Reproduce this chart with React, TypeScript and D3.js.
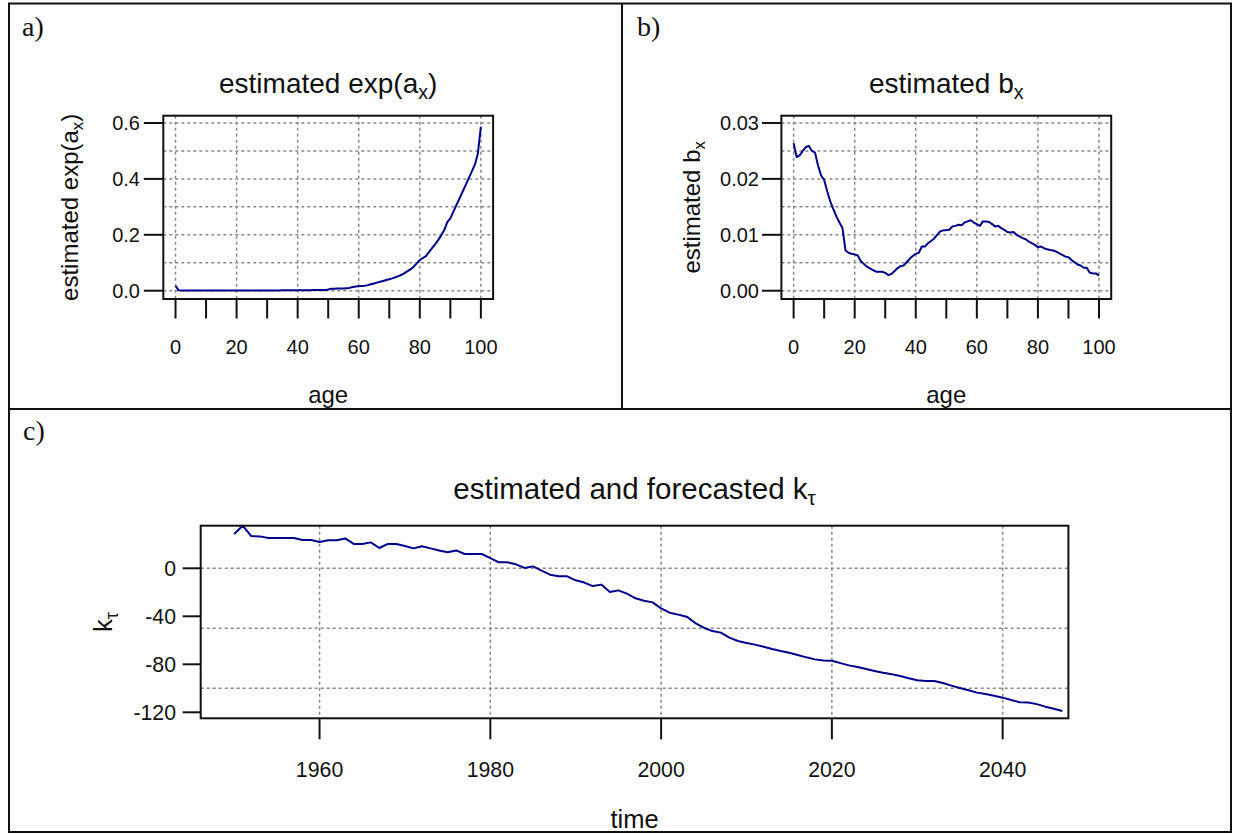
import React from "react";
import * as d3 from "d3";

// ---------- data ----------
const ageStart = 0;
const expAx = [
  0.017, 0.002, 0.001, 0.0007, 0.0005, 0.0004, 0.0004, 0.0004, 0.0004, 0.0004,
  0.0003, 0.0003, 0.0003, 0.0003, 0.0003, 0.0006, 0.0006, 0.0006, 0.0006, 0.0006,
  0.0008, 0.0008, 0.0008, 0.0008, 0.0008, 0.0008, 0.0008, 0.0008, 0.0008, 0.0008,
  0.001, 0.001, 0.001, 0.001, 0.001, 0.0013, 0.0013, 0.0013, 0.0013, 0.0013,
  0.0018, 0.0018, 0.0018, 0.0018, 0.0018, 0.0025, 0.0025, 0.0025, 0.0025, 0.0025,
  0.004, 0.007, 0.007, 0.008, 0.008, 0.008, 0.009, 0.010, 0.013, 0.015,
  0.016, 0.017, 0.018, 0.020, 0.023, 0.026, 0.029, 0.032, 0.035, 0.038,
  0.041, 0.044, 0.048, 0.052, 0.057, 0.063, 0.070, 0.077, 0.086, 0.098,
  0.110, 0.117, 0.124, 0.138, 0.152, 0.166, 0.181, 0.198, 0.217, 0.245,
  0.259, 0.283, 0.307, 0.330, 0.354, 0.378, 0.402, 0.426, 0.450, 0.490,
  0.587,
];
const bx = [
  0.0264, 0.0239, 0.0242, 0.0250, 0.0257, 0.0259, 0.0250, 0.0247, 0.0224, 0.0206,
  0.0198, 0.0178, 0.0160, 0.0146, 0.0133, 0.0122, 0.0112, 0.0072, 0.0068, 0.0066,
  0.0065, 0.0063, 0.0053, 0.0048, 0.0043, 0.0040, 0.0037, 0.0034, 0.0034, 0.0034,
  0.0032, 0.0028, 0.0030, 0.0035, 0.0040, 0.0044, 0.0045, 0.0051, 0.0057, 0.0062,
  0.0066, 0.0068, 0.0079, 0.0079, 0.0085, 0.0089, 0.0093, 0.0100, 0.0106, 0.0108,
  0.0108, 0.0109, 0.0115, 0.0116, 0.0118, 0.0117, 0.0122, 0.0124, 0.0126, 0.0122,
  0.0119, 0.0116, 0.0124, 0.0124, 0.0123, 0.0119, 0.0115, 0.0116, 0.0112, 0.0109,
  0.0105, 0.0104, 0.0105, 0.0100, 0.0097, 0.0094, 0.0092, 0.0088, 0.0085, 0.0082,
  0.0078, 0.0079, 0.0076, 0.0074, 0.0073, 0.0072, 0.0070, 0.0067, 0.0064, 0.0061,
  0.0060, 0.0055, 0.0051, 0.0047, 0.0045, 0.0041, 0.0041, 0.0032, 0.0031, 0.0031,
  0.0027,
];
const yearStart = 1950;
const kt = [
  28.6, 35.5, 26.9, 26.6, 25.3, 25.3, 25.3, 25.3, 23.6, 23.6,
  21.9, 23.3, 23.3, 24.9, 20.3, 20.3, 21.6, 16.9, 20.3, 20.3,
  18.6, 16.6, 18.3, 16.6, 14.9, 13.3, 14.9, 11.9, 11.9, 11.9,
  8.5, 5.0, 5.0, 3.3, 0.3, 1.6, -2.0, -5.3, -6.7, -6.7,
  -10.0, -11.9, -14.8, -13.6, -19.8, -18.4, -21.1, -25.0, -27.0, -28.4,
  -33.4, -37.0, -38.6, -40.3, -45.6, -49.5, -52.3, -53.6, -57.8, -60.6,
  -62.3, -63.6, -65.3, -67.2, -68.9, -70.3, -72.2, -74.2, -75.9, -76.9,
  -77.1, -79.0, -80.9, -82.3, -83.9, -85.5, -87.0, -88.2, -89.7, -91.6,
  -93.3, -93.9, -94.0, -95.6, -97.8, -99.8, -101.7, -103.6, -104.8, -106.2,
  -107.8, -109.8, -111.6, -111.9, -113.2, -115.3, -117.0, -118.9,
];

const ageGrid = [0, 20, 40, 60, 80, 100];
const ageTicks = [0, 10, 20, 30, 40, 50, 60, 70, 80, 90, 100];
const ageTickLabels = [0, 20, 40, 60, 80, 100];
const expAyTicks = [0, 0.2, 0.4, 0.6];
const expAyGrid = [0, 0.1, 0.2, 0.3, 0.4, 0.5, 0.6];
const bxYTicks = [0, 0.01, 0.02, 0.03];
const bxYGrid = [0, 0.005, 0.01, 0.015, 0.02, 0.025, 0.03];
const ktXTicks = [1960, 1980, 2000, 2020, 2040];
const ktYTicks = [0, -40, -80, -120];
const ktYGrid = [0, -50, -100];

// ---------- styling ----------
const SANS = "'Liberation Sans', Arial, Helvetica, sans-serif";
const SERIF = "'Liberation Serif', 'Times New Roman', serif";
const LINE = "#00008B";
const GRID = "#888888";

type Box = { l: number; r: number; t: number; b: number };

interface PanelProps {
  box: Box;
  xDomain: [number, number];
  yDomain: [number, number];
  xs: number[];
  ys: number[];
  xGrid: number[];
  yGrid: number[];
  xTicks: number[];
  xTickLabels: number[];
  yTicks: number[];
  yFmt: (v: number) => string;
  xTickLen: number;
  yTickLen: number;
  xLabelBaseline: number;
  yLabelRight: number;
  title: React.ReactNode;
  titleBaseline: number;
  yLabel: React.ReactNode;
  yLabelX: number;
  xLabel: string;
  xLabelY: number;
  tickFont: number;
  titleFont: number;
  labelFont: number;
}

function Panel(p: PanelProps) {
  const x = d3.scaleLinear().domain(p.xDomain).range([p.box.l, p.box.r]);
  const y = d3.scaleLinear().domain(p.yDomain).range([p.box.b, p.box.t]);
  const line = d3
    .line<number>()
    .x((_, i) => x(p.xs[i]))
    .y((d) => y(d));
  const cx = (p.box.l + p.box.r) / 2;
  const cy = (p.box.t + p.box.b) / 2;
  return (
    <g>
      {p.yGrid.map((v) => (
        <line
          key={"hg" + v}
          x1={p.box.l}
          x2={p.box.r}
          y1={y(v)}
          y2={y(v)}
          stroke={GRID}
          strokeWidth={1.5}
          strokeDasharray="3,3"
        />
      ))}
      {p.xGrid.map((v) => (
        <line
          key={"vg" + v}
          x1={x(v)}
          x2={x(v)}
          y1={p.box.t}
          y2={p.box.b}
          stroke={GRID}
          strokeWidth={1.5}
          strokeDasharray="3,3"
        />
      ))}
      <path
        d={line(p.ys) || ""}
        fill="none"
        stroke={LINE}
        strokeWidth={2}
        strokeLinejoin="round"
      />
      <rect
        x={p.box.l}
        y={p.box.t}
        width={p.box.r - p.box.l}
        height={p.box.b - p.box.t}
        fill="none"
        stroke="#111"
        strokeWidth={2}
      />
      {p.xTicks.map((v) => (
        <line
          key={"xt" + v}
          x1={x(v)}
          x2={x(v)}
          y1={p.box.b}
          y2={p.box.b + p.xTickLen}
          stroke="#111"
          strokeWidth={2}
        />
      ))}
      {p.xTickLabels.map((v) => (
        <text
          key={"xl" + v}
          x={x(v)}
          y={p.xLabelBaseline}
          textAnchor="middle"
          fontFamily={SANS}
          fontSize={p.tickFont}
          fill="#111"
        >
          {String(v)}
        </text>
      ))}
      {p.yTicks.map((v) => (
        <line
          key={"yt" + v}
          x1={p.box.l - p.yTickLen}
          x2={p.box.l}
          y1={y(v)}
          y2={y(v)}
          stroke="#111"
          strokeWidth={2}
        />
      ))}
      {p.yTicks.map((v) => (
        <text
          key={"yl" + v}
          x={p.yLabelRight}
          y={y(v)}
          dy="0.36em"
          textAnchor="end"
          fontFamily={SANS}
          fontSize={p.tickFont}
          fill="#111"
        >
          {p.yFmt(v)}
        </text>
      ))}
      <text
        x={cx}
        y={p.titleBaseline}
        textAnchor="middle"
        fontFamily={SANS}
        fontSize={p.titleFont}
        fill="#111"
      >
        {p.title}
      </text>
      <text
        transform={`translate(${p.yLabelX},${cy}) rotate(-90)`}
        textAnchor="middle"
        fontFamily={SANS}
        fontSize={p.labelFont}
        fill="#111"
      >
        {p.yLabel}
      </text>
      <text
        x={cx}
        y={p.xLabelY}
        textAnchor="middle"
        fontFamily={SANS}
        fontSize={p.labelFont}
        fill="#111"
      >
        {p.xLabel}
      </text>
    </g>
  );
}

function Sub({ main, sub, size }: { main: string; sub: string; size: number }) {
  return (
    <>
      {main}
      <tspan fontSize={size * 0.7} dy={size * 0.22}>
        {sub}
      </tspan>
    </>
  );
}

export default function App() {
  const ages = expAx.map((_, i) => ageStart + i);
  const years = kt.map((_, i) => yearStart + i);
  const boxA: Box = { l: 163.3, r: 493.1, t: 115.7, b: 299 };
  const boxB: Box = { l: 781.4, r: 1111.2, t: 115.7, b: 299 };
  const boxC: Box = { l: 200.7, r: 1068.4, t: 525.7, b: 718.3 };

  return (
    <svg
      width={1233}
      height={834}
      style={{ position: "absolute", left: 0, top: 0, display: "block", background: "#fff" }}
    >
      <rect x={0} y={0} width={1233} height={834} fill="#fff" />
      <rect x={9} y={3.5} width={1222} height={828.5} fill="none" stroke="#111" strokeWidth={2} />
      <line x1={9} x2={1231} y1={409} y2={409} stroke="#111" strokeWidth={2} />
      <line x1={622} x2={622} y1={3.5} y2={409} stroke="#111" strokeWidth={2} />
      <text x={22} y={36} fontFamily={SERIF} fontSize={28} fill="#111">a)</text>
      <text x={637} y={36} fontFamily={SERIF} fontSize={28} fill="#111">b)</text>
      <text x={23} y={440} fontFamily={SERIF} fontSize={28} fill="#111">c)</text>

      <Panel
        box={boxA}
        xDomain={[-4, 104]}
        yDomain={[-0.0297, 0.6261]}
        xs={ages}
        ys={expAx}
        xGrid={ageGrid}
        yGrid={expAyGrid}
        xTicks={ageTicks}
        xTickLabels={ageTickLabels}
        yTicks={expAyTicks}
        yFmt={d3.format(".1f")}
        xTickLen={19.5}
        yTickLen={19.5}
        xLabelBaseline={354}
        yLabelRight={140}
        title={<>estimated exp(<Sub main="a" sub="x" size={28} /><tspan dy={-28 * 0.22}>)</tspan></>}
        titleBaseline={92.5}
        yLabel={<>estimated exp(<Sub main="a" sub="x" size={24} /><tspan dy={-24 * 0.22}>)</tspan></>}
        yLabelX={78}
        xLabel="age"
        xLabelY={402.5}
        tickFont={20}
        titleFont={28}
        labelFont={24}
      />
      <Panel
        box={boxB}
        xDomain={[-4, 104]}
        yDomain={[-0.00148, 0.0313]}
        xs={ages}
        ys={bx}
        xGrid={ageGrid}
        yGrid={bxYGrid}
        xTicks={ageTicks}
        xTickLabels={ageTickLabels}
        yTicks={bxYTicks}
        yFmt={d3.format(".2f")}
        xTickLen={19.5}
        yTickLen={19.5}
        xLabelBaseline={354}
        yLabelRight={759}
        title={<Sub main="estimated b" sub="x" size={28} />}
        titleBaseline={92.5}
        yLabel={<Sub main="estimated b" sub="x" size={24} />}
        yLabelX={700}
        xLabel="age"
        xLabelY={402.5}
        tickFont={20}
        titleFont={28}
        labelFont={24}
      />
      <Panel
        box={boxC}
        xDomain={[1946.08, 2047.7]}
        yDomain={[-125, 35.5]}
        xs={years}
        ys={kt}
        xGrid={ktXTicks}
        yGrid={ktYGrid}
        xTicks={ktXTicks}
        xTickLabels={ktXTicks}
        yTicks={ktYTicks}
        yFmt={(v) => String(v)}
        xTickLen={21}
        yTickLen={18}
        xLabelBaseline={777}
        yLabelRight={176}
        title={<Sub main="estimated and forecasted k" sub="τ" size={29.5} />}
        titleBaseline={499}
        yLabel={<Sub main="k" sub="τ" size={25.5} />}
        yLabelX={112}
        xLabel="time"
        xLabelY={828}
        tickFont={21.3}
        titleFont={29.5}
        labelFont={25.5}
      />
    </svg>
  );
}
